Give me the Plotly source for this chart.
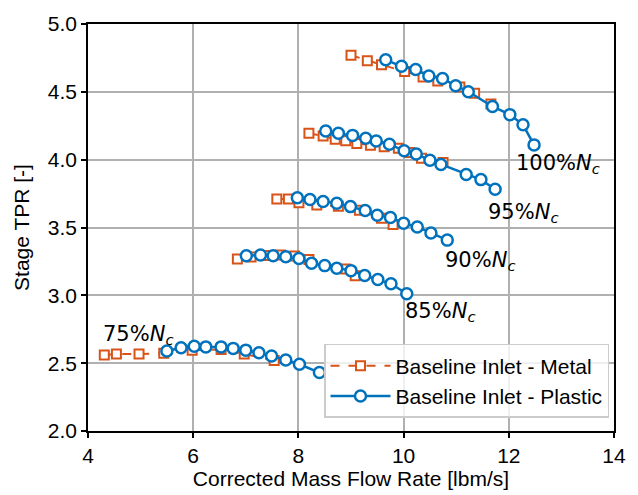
import plotly.graph_objects as go

# Speed lines
speeds = ["100%", "95%", "90%", "85%", "75%"]

# Baseline Inlet - Metal
metal_x = {
    "100%": [9.00, 9.31, 9.58, 10.02, 10.37, 10.65, 11.07, 11.35, 11.66],
    "95%": [8.20, 8.47, 8.70, 8.90, 9.11, 9.37, 9.63, 9.90, 10.12, 10.34, 10.75],
    "90%": [7.59, 7.81, 8.01, 8.35, 8.76, 9.16, 9.58, 9.80],
    "85%": [6.84, 7.10, 7.38, 7.66, 7.93, 8.20, 8.90, 9.08],
    "75%": [4.31, 4.54, 4.97, 5.44, 5.98, 6.53, 6.97, 7.54],
}
metal_y = {
    "100%": [4.77, 4.73, 4.70, 4.65, 4.61, 4.58, 4.535, 4.49, 4.41],
    "95%": [4.194, 4.174, 4.15, 4.14, 4.12, 4.107, 4.096, 4.085, 4.052, 4.01, 3.98],
    "90%": [3.71, 3.71, 3.682, 3.666, 3.656, 3.627, 3.569, 3.522],
    "85%": [3.268, 3.283, 3.293, 3.298, 3.29, 3.264, 3.195, 3.145],
    "75%": [2.56, 2.567, 2.567, 2.574, 2.596, 2.601, 2.567, 2.52],
}

# Baseline Inlet - Plastic
plastic_x = {
    "100%": [9.66, 9.96, 10.23, 10.48, 10.74, 10.99, 11.23, 11.69, 12.02, 12.27, 12.48],
    "95%": [8.52, 8.76, 9.03, 9.28, 9.48, 9.73, 10.01, 10.24, 10.50, 10.71, 11.19, 11.47, 11.74],
    "90%": [7.98, 8.22, 8.47, 8.73, 8.99, 9.27, 9.50, 9.75, 10.00, 10.26, 10.52, 10.83],
    "85%": [7.01, 7.28, 7.52, 7.76, 8.01, 8.25, 8.50, 8.73, 9.00, 9.26, 9.51, 9.76, 10.06],
    "75%": [5.50, 5.77, 6.02, 6.24, 6.53, 6.76, 7.00, 7.25, 7.49, 7.76, 8.02, 8.40],
}
plastic_y = {
    "100%": [4.736, 4.688, 4.664, 4.617, 4.598, 4.545, 4.501, 4.392, 4.332, 4.257, 4.109],
    "95%": [4.211, 4.194, 4.179, 4.158, 4.138, 4.114, 4.065, 4.041, 3.996, 3.964, 3.891, 3.853, 3.782],
    "90%": [3.720, 3.707, 3.691, 3.678, 3.654, 3.625, 3.591, 3.573, 3.531, 3.504, 3.460, 3.407],
    "85%": [3.291, 3.298, 3.291, 3.284, 3.272, 3.237, 3.219, 3.199, 3.182, 3.146, 3.117, 3.085, 3.012],
    "75%": [2.589, 2.613, 2.625, 2.620, 2.620, 2.609, 2.596, 2.577, 2.553, 2.524, 2.492, 2.431],
}

# Speed line labels (anchor positions in data units)
label_x = [12.09, 11.57, 10.74, 9.99, 4.24]
label_y = [3.97, 3.61, 3.25, 2.88, 2.71]

x_ticks = [4, 6, 8, 10, 12, 14]
y_ticks = [2.0, 2.5, 3.0, 3.5, 4.0, 4.5, 5.0]

ORANGE = "#D95319"
BLUE = "#0072BD"
TICK_FONT = "Arial, Liberation Sans, sans-serif"
FS = 21

fig = go.Figure()

for i, s in enumerate(speeds):
    fig.add_trace(go.Scatter(
        x=metal_x[s], y=metal_y[s], mode="lines+markers",
        name="Baseline Inlet - Metal", legendgroup="metal",
        showlegend=(i == 0),
        line=dict(color=ORANGE, width=2, dash="dash"),
        marker=dict(symbol="square", size=9, color="white",
                    line=dict(color=ORANGE, width=2)),
    ))

for i, s in enumerate(speeds):
    fig.add_trace(go.Scatter(
        x=plastic_x[s], y=plastic_y[s], mode="lines+markers",
        name="Baseline Inlet - Plastic", legendgroup="plastic",
        showlegend=(i == 0),
        line=dict(color=BLUE, width=2.5),
        marker=dict(symbol="circle", size=11, color="white",
                    line=dict(color=BLUE, width=2.5)),
    ))

for s, lx, ly in zip(speeds, label_x, label_y):
    fig.add_annotation(
        x=lx, y=ly, xref="x", yref="y", xanchor="left", yanchor="middle",
        text=f"{s}<i>N</i><sub><i>c</i></sub>", showarrow=False,
        font=dict(family="DejaVu Sans", size=21, color="black"),
    )

axis_common = dict(
    showline=True, linecolor="black", linewidth=1.5, mirror=True,
    ticks="outside", ticklen=5, tickwidth=1.5, tickcolor="black",
    showgrid=True, gridcolor="#b0b0b0", gridwidth=1.5,
    zeroline=False,
    tickfont=dict(family=TICK_FONT, size=FS, color="black"),
)

fig.update_xaxes(
    range=[4, 14], tickvals=x_ticks, ticktext=[str(v) for v in x_ticks],
    title=dict(text="Corrected Mass Flow Rate [lbm/s]", standoff=0,
               font=dict(family=TICK_FONT, size=FS, color="black")),
    **axis_common,
)
fig.update_yaxes(
    range=[2.0, 5.0], tickvals=y_ticks, ticktext=[f"{v:.1f}" for v in y_ticks],
    title=dict(text="Stage TPR [-]", standoff=12,
               font=dict(family=TICK_FONT, size=FS, color="black")),
    **axis_common,
)

fig.update_layout(
    width=638, height=495,
    margin=dict(l=88, r=21, t=17, b=64),
    paper_bgcolor="white", plot_bgcolor="white",
    legend=dict(
        x=0.9905, y=0.032, xanchor="right", yanchor="bottom",
        bgcolor="rgba(255,255,255,0.8)", bordercolor="#cccccc", borderwidth=1.5,
        font=dict(family=TICK_FONT, size=FS, color="black"),
        traceorder="normal", itemwidth=60, tracegroupgap=0,
    ),
)

# remove the default page margin so the figure sits at the window's top-left
fig.write_html(
    "out.html",
    config={"displayModeBar": False},
    post_script="document.body.style.margin='0';document.body.style.overflow='hidden';",
)
